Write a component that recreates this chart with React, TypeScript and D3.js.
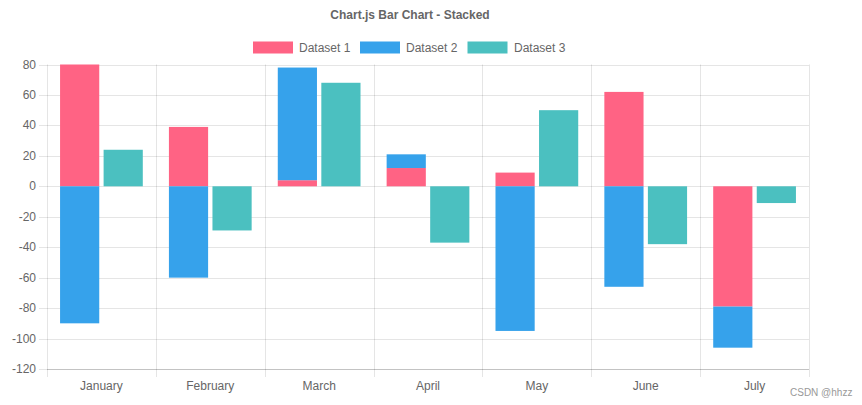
import React from "react";
import * as d3 from "d3";

const categories = ["January", "February", "March", "April", "May", "June", "July"];
const dataset1 = [80, 39, 4, 12, 9, 62, -79];
const dataset2 = [-90, -60, 74, 9, -95, -66, -27];
const dataset3 = [24, -29, 68, -37, 50, -38, -11];
const yTicks = [80, 60, 40, 20, 0, -20, -40, -60, -80, -100, -120];
const seriesNames = ["Dataset 1", "Dataset 2", "Dataset 3"];
const seriesColors = ["rgb(255, 99, 132)", "rgb(54, 162, 235)", "rgb(75, 192, 192)"];
const seriesStacks = [0, 0, 1];

const W = 862;
const H = 405;
const left = 47;
const right = 809;
const top = 64.5;
const bottom = 369;
const FONT = "'Liberation Sans', Arial, Helvetica, sans-serif";

export default function App() {
  const x = d3.scaleBand<string>().domain(categories).range([left, right]).paddingInner(0).paddingOuter(0);
  const y = d3.scaleLinear().domain([-120, 80]).range([bottom, top]);
  const stackScale = d3
    .scaleBand<number>()
    .domain([0, 1])
    .range([0, x.bandwidth() * 0.8]);
  const barW = stackScale.bandwidth() * 0.9;

  const allSeries = [dataset1, dataset2, dataset3];
  const rects: any[] = [];
  categories.forEach((c, i) => {
    const pos: Record<number, number> = {};
    const neg: Record<number, number> = {};
    allSeries.forEach((vals, s) => {
      const st = seriesStacks[s];
      const v = vals[i];
      let base: number;
      if (v >= 0) {
        base = pos[st] || 0;
        pos[st] = base + v;
      } else {
        base = neg[st] || 0;
        neg[st] = base + v;
      }
      const y0 = y(base);
      const y1 = y(base + v);
      const cx = x(c)! + x.bandwidth() * 0.1 + stackScale(st)! + stackScale.bandwidth() / 2;
      rects.push(
        <rect
          key={`${s}-${i}`}
          x={cx - barW / 2}
          y={Math.min(y0, y1)}
          width={barW}
          height={Math.abs(y1 - y0)}
          fill={seriesColors[s]}
        />
      );
    });
  });

  const legendItems = [
    { bx: 253, tx: 299 },
    { bx: 360, tx: 406 },
    { bx: 467.5, tx: 514 },
  ];

  return (
    <svg width={W} height={H} style={{ position: "absolute", left: 0, top: 0 }}>
      <rect x={0} y={0} width={W} height={H} fill="#fff" />
      <text x={410} y={19} textAnchor="middle" fontFamily={FONT} fontSize={12} fontWeight="bold" fill="#666">
        Chart.js Bar Chart - Stacked
      </text>
      {seriesNames.map((n, i) => (
        <g key={n}>
          <rect x={legendItems[i].bx} y={41.5} width={40} height={12} fill={seriesColors[i]} />
          <text x={legendItems[i].tx} y={52} fontFamily={FONT} fontSize={12} fill="#666">
            {n}
          </text>
        </g>
      ))}
      {yTicks.map((t) => (
        <g key={t}>
          <line x1={39} x2={right} y1={Math.round(y(t)) + 0.5} y2={Math.round(y(t)) + 0.5} stroke="rgba(0,0,0,0.1)" />
          <text x={36} y={y(t) + 4} textAnchor="end" fontFamily={FONT} fontSize={12} fill="#666">
            {t}
          </text>
        </g>
      ))}
      {d3.range(categories.length + 1).map((i) => {
        const xx = Math.round(left + i * x.bandwidth()) + 0.5;
        return <line key={i} x1={xx} x2={xx} y1={top} y2={377} stroke="rgba(0,0,0,0.1)" />;
      })}
      <line x1={left} x2={right} y1={Math.round(bottom) + 0.5} y2={Math.round(bottom) + 0.5} stroke="rgba(0,0,0,0.15)" />
      {rects}
      {categories.map((c) => (
        <text key={c} x={x(c)! + x.bandwidth() / 2} y={390} textAnchor="middle" fontFamily={FONT} fontSize={12} fill="#666">
          {c}
        </text>
      ))}
      <text x={790} y={396} fontFamily={FONT} fontSize={10} fill="#999">
        CSDN @hhzz
      </text>
    </svg>
  );
}
